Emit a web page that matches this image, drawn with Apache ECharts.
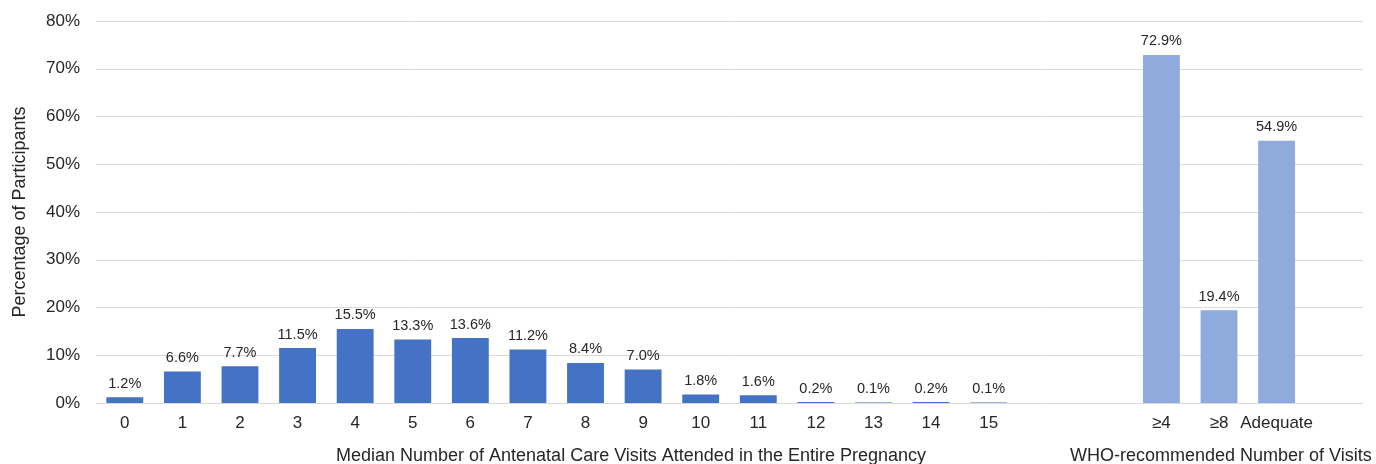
<!DOCTYPE html>
<html>
<head>
<meta charset="utf-8">
<script src="https://cdn.jsdelivr.net/npm/echarts@6/dist/echarts.min.js"></script>
<style>
  html, body { margin: 0; padding: 0; background: #fff; }
  #chart { width: 1376px; height: 464px; }
</style>
</head>
<body>
<div id="chart"></div>
<script>
// categories: 0..15 visits, two empty gap slots, WHO groups, one trailing slot
const visitLabels = ['0','1','2','3','4','5','6','7','8','9','10','11','12','13','14','15'];
const whoLabels = ['≥4', '≥8', 'Adequate'];
const visitValues = [1.2, 6.6, 7.7, 11.5, 15.5, 13.3, 13.6, 11.2, 8.4, 7.0, 1.8, 1.6, 0.2, 0.1, 0.2, 0.1];
const whoValues = [72.9, 19.4, 54.9];
const yTicks = [0, 10, 20, 30, 40, 50, 60, 70, 80];

const categories = visitLabels.concat(['', ''], whoLabels, ['']);
const visitSeries = visitValues.concat(new Array(categories.length - visitValues.length).fill('-'));
const whoSeries = new Array(visitValues.length + 2).fill('-').concat(whoValues, ['-']);

const font = 'Liberation Sans, Arial, sans-serif';
const chart = echarts.init(document.getElementById('chart'));

const labelStyle = {
  show: true,
  position: 'top',
  distance: 6,
  color: '#262626',
  fontSize: 14.5,
  fontFamily: font,
  formatter: p => p.value.toFixed(1) + '%'
};

chart.setOption({
  animation: false,
  grid: { left: 96, right: 13, top: 21, bottom: 61 },
  xAxis: {
    type: 'category',
    data: categories,
    axisLine: { show: false },
    axisTick: { show: false },
    axisLabel: { color: '#262626', fontSize: 17, fontFamily: font, margin: 12, interval: 0 }
  },
  yAxis: {
    type: 'value',
    min: yTicks[0],
    max: yTicks[yTicks.length - 1],
    interval: 10,
    axisLine: { show: false },
    axisTick: { show: false },
    axisLabel: { color: '#262626', fontSize: 17, fontFamily: font, margin: 16, formatter: '{value}%' },
    splitLine: { lineStyle: { color: '#d9d9d9', width: 1 } },
    name: 'Percentage of Participants',
    nameLocation: 'middle',
    nameGap: 67,
    nameTextStyle: { color: '#262626', fontSize: 18, fontFamily: font }
  },
  series: [
    {
      name: 'Visits',
      type: 'bar',
      data: visitSeries,
      barWidth: '64%',
      barGap: '-100%',
      itemStyle: { color: '#4472C4' },
      label: labelStyle
    },
    {
      name: 'WHO',
      type: 'bar',
      data: whoSeries,
      barWidth: '64%',
      itemStyle: { color: '#8FAADC' },
      label: labelStyle
    }
  ],
  graphic: [
    {
      type: 'text',
      left: 336,
      top: 447,
      style: { text: 'Median Number of Antenatal Care Visits Attended in the Entire Pregnancy', fill: '#262626', fontSize: 18, fontFamily: font }
    },
    {
      type: 'text',
      left: 1070,
      top: 447,
      style: { text: 'WHO-recommended Number of Visits', fill: '#262626', fontSize: 18, fontFamily: font }
    }
  ]
});
</script>
</body>
</html>
